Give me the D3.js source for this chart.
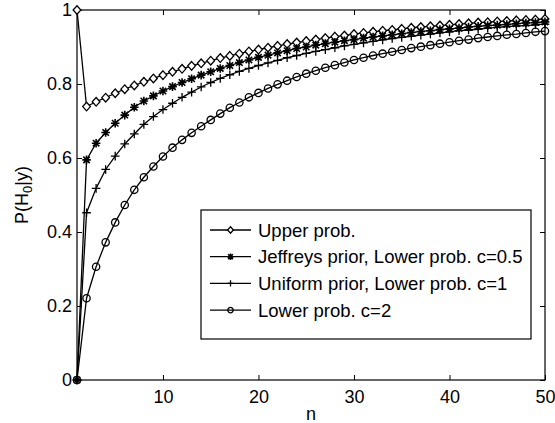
<!DOCTYPE html>
<html><head><meta charset="utf-8">
<script src="https://cdn.jsdelivr.net/npm/d3@7"></script>
<style>body{margin:0;background:#fff}svg{display:block}text{font-family:"Liberation Sans",Arial,sans-serif;fill:#000}</style>
</head><body>
<script>
const nValues = d3.range(1, 51);
const upperProb = [1.000,0.739,0.752,0.763,0.775,0.786,0.796,0.806,0.815,0.824,0.833,0.841,0.849,0.856,0.863,0.870,0.876,0.882,0.888,0.893,0.898,0.903,0.908,0.912,0.916,0.920,0.924,0.928,0.931,0.935,0.938,0.941,0.944,0.946,0.949,0.952,0.954,0.956,0.958,0.960,0.962,0.964,0.966,0.967,0.969,0.970,0.972,0.973,0.974,0.976];
const jeffreysLower = [0.000,0.595,0.640,0.669,0.694,0.716,0.737,0.754,0.768,0.781,0.793,0.804,0.814,0.824,0.833,0.842,0.850,0.858,0.865,0.872,0.878,0.884,0.890,0.896,0.900,0.905,0.909,0.913,0.917,0.920,0.924,0.927,0.930,0.933,0.936,0.939,0.942,0.944,0.947,0.949,0.951,0.954,0.956,0.958,0.959,0.961,0.963,0.965,0.966,0.968];
const uniformLower = [0.000,0.452,0.518,0.569,0.605,0.638,0.665,0.691,0.712,0.731,0.748,0.764,0.778,0.792,0.804,0.815,0.825,0.834,0.842,0.850,0.857,0.864,0.871,0.877,0.883,0.888,0.893,0.898,0.903,0.907,0.911,0.915,0.919,0.923,0.926,0.929,0.932,0.935,0.938,0.941,0.944,0.946,0.948,0.951,0.953,0.955,0.957,0.958,0.960,0.962];
const lowerC2 = [0.000,0.221,0.306,0.372,0.426,0.473,0.514,0.548,0.577,0.604,0.628,0.649,0.668,0.686,0.703,0.720,0.736,0.750,0.764,0.776,0.788,0.799,0.809,0.819,0.828,0.836,0.844,0.851,0.858,0.865,0.871,0.877,0.882,0.887,0.892,0.897,0.901,0.905,0.909,0.913,0.917,0.920,0.924,0.927,0.930,0.933,0.935,0.938,0.941,0.943];
const seriesNames = ["Upper prob.","Jeffreys prior, Lower prob. c=0.5","Uniform prior, Lower prob. c=1","Lower prob. c=2"];
const markerTypes = ["diamond","asterisk","plus","circle"];
const xTicks = [10,20,30,40,50];
const yTicks = [0,0.2,0.4,0.6,0.8,1];

const W=555,H=423, m={l:77,r:10,t:10,b:43};
const svg=d3.select("body").append("svg").attr("width",W).attr("height",H);
const x=d3.scaleLinear().domain([1,50]).range([m.l,W-m.r]);
const y=d3.scaleLinear().domain([0,1]).range([H-m.b,m.t]);
const FS=18, LFS=18.5;

// axes box
const g=svg.append("g");
g.append("rect").attr("x",x(1)).attr("y",y(1)).attr("width",x(50)-x(1)).attr("height",y(0)-y(1))
 .attr("fill","none").attr("stroke","#000").attr("stroke-width",1.2);
const xb=g.append("g").attr("transform",`translate(0,${y(0)})`).call(d3.axisBottom(x).tickValues(xTicks).tickSizeInner(-5).tickSizeOuter(0).tickPadding(10).tickFormat(d3.format("d")));
const xt=g.append("g").attr("transform",`translate(0,${y(1)})`).call(d3.axisTop(x).tickValues(xTicks).tickSizeInner(-5).tickSizeOuter(0).tickFormat(""));
const yl=g.append("g").attr("transform",`translate(${x(1)},0)`).call(d3.axisLeft(y).tickValues(yTicks).tickSizeInner(-5).tickSizeOuter(0).tickPadding(5).tickFormat(d=>d===0||d===1?String(d):d3.format(".1f")(d)));
const yr=g.append("g").attr("transform",`translate(${x(50)},0)`).call(d3.axisRight(y).tickValues(yTicks).tickSizeInner(-5).tickSizeOuter(0).tickFormat(""));
[xb,xt,yl,yr].forEach(a=>{a.select(".domain").remove();a.selectAll("line").attr("stroke","#000").attr("stroke-width",1);a.selectAll("text").attr("font-size",FS).attr("font-family",'"Liberation Sans",Arial,sans-serif');});

// labels
svg.append("text").attr("x",(x(1)+x(50))/2).attr("y",420).attr("text-anchor","middle").attr("font-size",FS).text("n");
const yLab=svg.append("text").attr("transform",`translate(28,${(y(0)+y(1))/2}) rotate(-90)`).attr("text-anchor","middle").attr("font-size",FS);
yLab.append("tspan").text("P(H");
yLab.append("tspan").attr("font-size",FS*0.72).attr("dy",4).text("0");
yLab.append("tspan").attr("dy",-4).text("|y)");

function drawMarker(sel,type,s){
  if(type==="diamond") sel.append("path").attr("d",`M0,${-s}L${s*0.9},0L0,${s}L${-s*0.9},0Z`).attr("fill","#fff").attr("stroke","#000").attr("stroke-width",1.3);
  else if(type==="circle") sel.append("circle").attr("r",s*0.85).attr("fill","none").attr("stroke","#000").attr("stroke-width",1.3);
  else if(type==="plus") sel.append("path").attr("d",`M${-s},0H${s}M0,${-s}V${s}`).attr("stroke","#000").attr("stroke-width",1.3);
  else { const d=s*0.75; sel.append("path").attr("d",`M${-s},0H${s}M0,${-s}V${s}M${-d},${-d}L${d},${d}M${-d},${d}L${d},${-d}`).attr("stroke","#000").attr("stroke-width",1.6); }
}

const allSeries=[upperProb,jeffreysLower,uniformLower,lowerC2];
const line=d3.line().x((d,i)=>x(nValues[i])).y(d=>y(d));
allSeries.forEach((vals,k)=>{
  svg.append("path").datum(vals).attr("d",line).attr("fill","none").attr("stroke","#000").attr("stroke-width",1.3);
  svg.append("g").selectAll("g").data(vals).join("g").attr("transform",(d,i)=>`translate(${x(nValues[i])},${y(d)})`)
    .each(function(){drawMarker(d3.select(this),markerTypes[k],4.3);});
});

// legend
const lg=svg.append("g");
lg.append("rect").attr("x",201).attr("y",210).attr("width",330).attr("height",129).attr("fill","#fff").attr("stroke","#000").attr("stroke-width",1.2);
seriesNames.forEach((nm,k)=>{
  const yy=230+k*26.7;
  lg.append("line").attr("x1",210).attr("x2",251).attr("y1",yy).attr("y2",yy).attr("stroke","#000").attr("stroke-width",1.3);
  const mg=lg.append("g").attr("transform",`translate(230.5,${yy})`); drawMarker(mg,markerTypes[k],3.2);
  lg.append("text").attr("x",258).attr("y",yy+6.5).attr("font-size",LFS).text(nm);
});
</script>
</body></html>
